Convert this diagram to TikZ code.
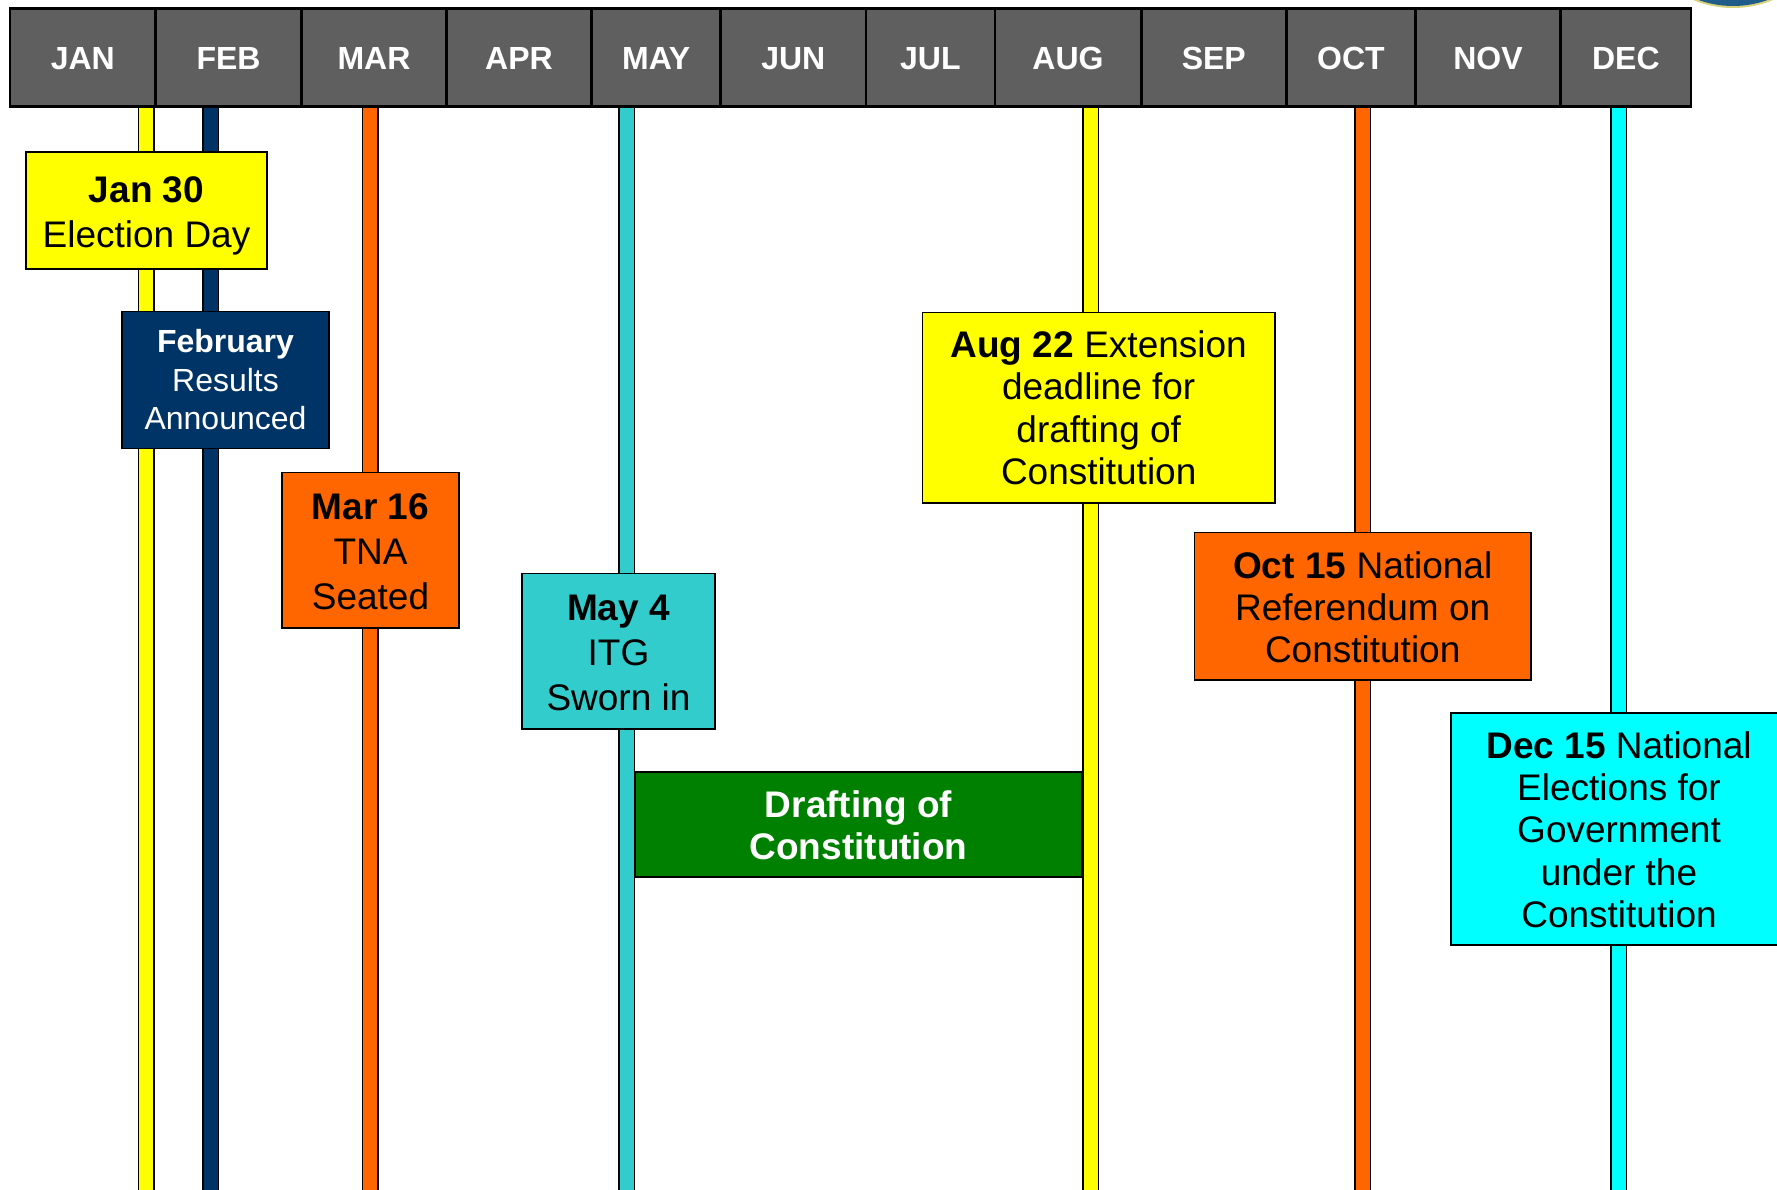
\documentclass[tikz,border=0pt]{standalone}
\usepackage{fontspec}
\setmainfont{Liberation Sans}
\definecolor{monthgray}{HTML}{5F5F5F}
\definecolor{navy}{HTML}{003366}
\definecolor{deeporange}{HTML}{FF6600}
\definecolor{teal}{HTML}{33CCCC}
\definecolor{aqua}{HTML}{00FFFF}
\definecolor{leaf}{HTML}{008000}
\definecolor{lemon}{HTML}{FFFF00}
\definecolor{sealblue}{HTML}{1F5C8A}
\definecolor{sealring}{HTML}{D8D27A}
\begin{document}
\begin{tikzpicture}[
  x=1pt,y=-1pt,
  month/.style={draw=black,line width=2.5pt,fill=monthgray,text=white,font=\fontsize{32}{38}\selectfont\bfseries,minimum height=98pt,inner sep=0pt,text height=25pt,text depth=0pt},
  bar/.style={draw=black,line width=1.5pt,double distance=14pt},
  event/.style={draw=black,line width=1.3pt,align=center,text=black,inner sep=0pt},
  big/.style={font=\fontsize{37}{45}\selectfont},
  mid/.style={font=\fontsize{37}{42.3}\selectfont},
]
  \useasboundingbox (0,0) rectangle (1777,1190);
  \fill[white] (0,0) rectangle (1777,1190);

  % seal in the corner
  \begin{scope}
    \clip (1670,0) rectangle (1777,20);
    \fill[sealring] (1733,-96) circle (104);
    \fill[sealblue] (1733,-96) circle (102);
  \end{scope}

  \coordinate (jantop) at (146,106);
  \coordinate (janend) at (146,1190);
  \coordinate (febtop) at (210.5,106);
  \coordinate (febend) at (210.5,1190);
  \coordinate (martop) at (370,106);
  \coordinate (marend) at (370,1190);
  \coordinate (maytop) at (626.5,106);
  \coordinate (mayend) at (626.5,1190);
  \coordinate (augtop) at (1090.5,106);
  \coordinate (augend) at (1090.5,1190);
  \coordinate (octtop) at (1362.5,106);
  \coordinate (octend) at (1362.5,1190);
  \coordinate (dectop) at (1618.5,106);
  \coordinate (decend) at (1618.5,1190);

  \draw[bar,double=lemon] (jantop) -- (janend);
  \draw[bar,double=navy] (febtop) -- (febend);
  \draw[bar,double=deeporange] (martop) -- (marend);
  \draw[bar,double=teal] (maytop) -- (mayend);
  \draw[bar,double=lemon] (augtop) -- (augend);
  \draw[bar,double=deeporange] (octtop) -- (octend);
  \draw[bar,double=aqua] (dectop) -- (decend);

  \node[month,minimum width=145.5pt] (jan) at (82.8,57.5) {JAN};
  \node[month,minimum width=146pt] (feb) at (228.5,57.5) {FEB};
  \node[month,minimum width=145pt] (mar) at (374,57.5) {MAR};
  \node[month,minimum width=145pt] (apr) at (519,57.5) {APR};
  \node[month,minimum width=129pt] (may) at (656.2,57.5) {MAY};
  \node[month,minimum width=145pt] (jun) at (793.3,57.5) {JUN};
  \node[month,minimum width=129pt] (jul) at (930.4,57.5) {JUL};
  \node[month,minimum width=146pt] (aug) at (1068,57.5) {AUG};
  \node[month,minimum width=145pt] (sep) at (1213.8,57.5) {SEP};
  \node[month,minimum width=129pt] (oct) at (1351,57.5) {OCT};
  \node[month,minimum width=145pt] (nov) at (1488,57.5) {NOV};
  \node[month,minimum width=130pt] (dec) at (1625.9,57.5) {DEC};

  \node[event,big,fill=lemon,minimum width=241pt,minimum height=117pt] (election) at (146.5,210.5)
    {\rule{0pt}{36pt}\textbf{Jan 30}\\Election Day};
  \node[event,fill=navy,text=white,font=\fontsize{32}{38.5}\selectfont,minimum width=207pt,minimum height=136.5pt] (results) at (225.5,380)
    {\textbf{February}\\Results\\Announced};
  \node[event,big,fill=deeporange,minimum width=177pt,minimum height=155.5pt] (seated) at (370.5,550.2)
    {\rule{0pt}{28pt}\textbf{Mar 16}\\TNA\\Seated};
  \node[event,big,fill=teal,minimum width=193pt,minimum height=155.5pt] (sworn) at (618.5,651.2)
    {\rule{0pt}{28pt}\textbf{May 4}\\ITG\\Sworn in};
  \node[event,mid,fill=lemon,minimum width=352.5pt,minimum height=190.5pt] (extension) at (1098.7,407.7)
    {\textbf{Aug 22} Extension\\deadline for\\drafting of\\Constitution};
  \node[event,mid,fill=deeporange,minimum width=336.5pt,minimum height=147.5pt] (referendum) at (1362.7,606.2)
    {\rule{0pt}{29pt}\textbf{Oct 15} National\\Referendum on\\Constitution};
  \node[event,mid,fill=aqua,minimum width=336pt,minimum height=232pt] (elections) at (1619,829)
    {\rule{0pt}{28pt}\textbf{Dec 15} National\\Elections for\\Government\\under the\\Constitution};
  \node[event,mid,fill=leaf,text=white,font=\fontsize{37}{42.3}\selectfont\bfseries,minimum width=447pt,minimum height=105pt] (drafting) at (858.5,824.5)
    {\rule{0pt}{29pt}Drafting of\\Constitution};
\end{tikzpicture}
\end{document}
